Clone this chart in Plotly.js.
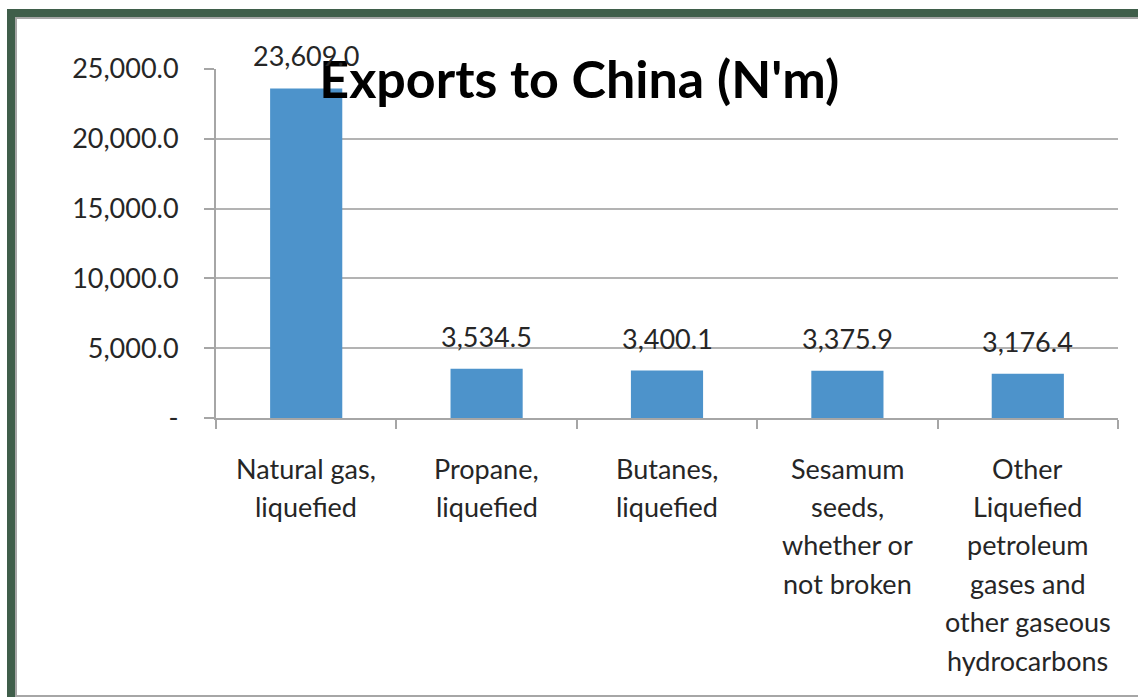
<!DOCTYPE html>
<html>
<head>
<meta charset="utf-8">
<script src="https://cdn.plot.ly/plotly-3.0.1.min.js"></script>
<style>
  html, body { margin: 0; padding: 0; background: #ffffff; width: 1138px; height: 697px; overflow: hidden; }
  #frame { position: absolute; left: 7px; top: 9px; width: 1131px; height: 688px; background: #3f5e4a; }
  #inner { position: absolute; left: 8px; top: 8px; right: 0; bottom: 0; background: #a6a6a6; }
  #white { position: absolute; left: 2px; top: 2px; right: 0; bottom: 2px; background: #ffffff; }
  #chart { position: absolute; left: 0; top: 0; width: 1138px; height: 697px; }
</style>
</head>
<body>
<div id="frame"><div id="inner"><div id="white"></div></div></div>
<div id="chart"></div>
<script>
const categories = [
  "Natural gas, liquefied",
  "Propane, liquefied",
  "Butanes, liquefied",
  "Sesamum seeds, whether or not broken",
  "Other Liquefied petroleum gases and other gaseous hydrocarbons"
];
const categoryLines = [
  ["Natural gas,", "liquefied"],
  ["Propane,", "liquefied"],
  ["Butanes,", "liquefied"],
  ["Sesamum", "seeds,", "whether or", "not broken"],
  ["Other", "Liquefied", "petroleum", "gases and", "other gaseous", "hydrocarbons"]
];
const values = [23609.0, 3534.5, 3400.1, 3375.9, 3176.4];
const yTickVals = [0, 5000, 10000, 15000, 20000, 25000];
const yTickText = ["-", "5,000.0", "10,000.0", "15,000.0", "20,000.0", "25,000.0"];
const titleText = "Exports to China (N'm)";

const fontFam = "Lato, 'Open Sans', sans-serif";
const textColor = '#262626';

const labelAnnotations = values.map((v, i) => ({
  x: categories[i], y: v, xref: 'x', yref: 'y',
  text: v.toLocaleString('en-US', {minimumFractionDigits: 1, maximumFractionDigits: 1}),
  showarrow: false, yanchor: 'bottom', yshift: 14,
  font: {family: fontFam, size: 27, color: textColor}
}));

const catAnnotations = [];
categoryLines.forEach((lines, i) => {
  lines.forEach((line, k) => {
    catAnnotations.push({
      x: categories[i], y: 0, xref: 'x', yref: 'y',
      text: line, showarrow: false, yanchor: 'middle', xanchor: 'center',
      yshift: -(50 + k * 38.4),
      font: {family: fontFam, size: 27, color: textColor}
    });
  });
});

const trace = {
  type: 'bar',
  x: categories,
  y: values,
  marker: {color: '#4d93cb'},
  width: 0.4,
  hoverinfo: 'none'
};

const layout = {
  width: 1138, height: 697,
  paper_bgcolor: 'rgba(0,0,0,0)',
  plot_bgcolor: 'rgba(0,0,0,0)',
  margin: {l: 216, r: 20, t: 69, b: 279},
  showlegend: false,
  title: {
    text: '<b>' + titleText + '</b>',
    font: {family: fontFam, size: 52, color: '#000000'},
    xref: 'container', x: 0.509, xanchor: 'center',
    yref: 'container', y: 0.885, yanchor: 'middle'
  },
  xaxis: {
    type: 'category',
    showline: true, linecolor: '#a6a6a6', linewidth: 2,
    ticks: 'outside', tickson: 'boundaries', ticklen: 9, tickcolor: '#a6a6a6', tickwidth: 2,
    showgrid: false,
    showticklabels: false
  },
  yaxis: {
    range: [0, 25000],
    tickvals: yTickVals, ticktext: yTickText,
    showline: true, linecolor: '#a6a6a6', linewidth: 2,
    ticks: 'outside', ticklen: 10, tickcolor: '#a6a6a6', tickwidth: 2,
    showgrid: true, gridcolor: '#b3b3b3', gridwidth: 2,
    zeroline: false,
    tickfont: {family: fontFam, size: 27, color: textColor},
    ticklabelstandoff: 20
  },
  annotations: labelAnnotations.concat(catAnnotations)
};

Plotly.newPlot('chart', [trace], layout, {displayModeBar: false, staticPlot: true});
</script>
</body>
</html>
